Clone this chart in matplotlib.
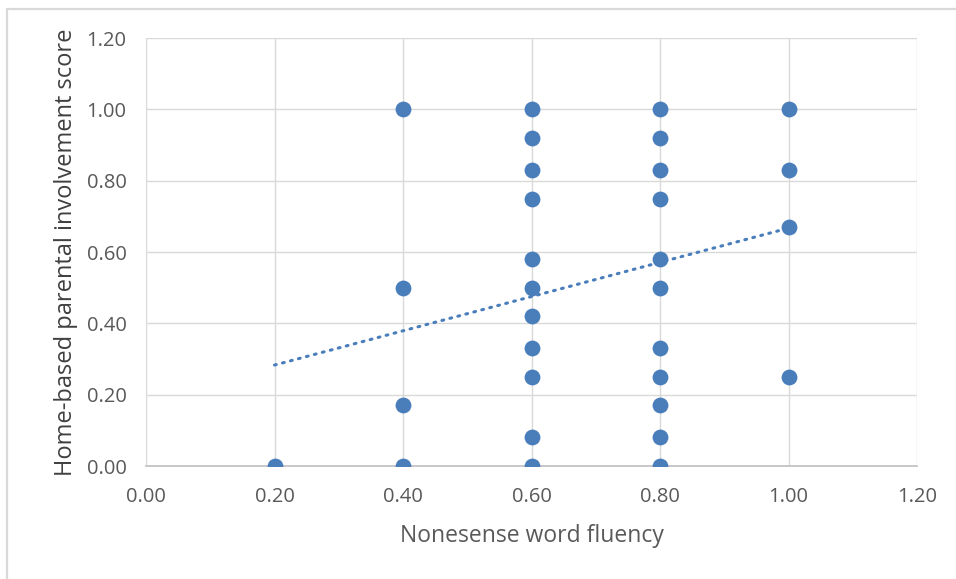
import numpy as np
import matplotlib
matplotlib.use("Agg")
import matplotlib.pyplot as plt
from matplotlib.patches import Rectangle

# Data
fluency = [0.2,
           0.4, 0.4, 0.4, 0.4,
           0.6, 0.6, 0.6, 0.6, 0.6, 0.6, 0.6, 0.6, 0.6, 0.6, 0.6,
           0.8, 0.8, 0.8, 0.8, 0.8, 0.8, 0.8, 0.8, 0.8, 0.8, 0.8,
           1.0, 1.0, 1.0, 1.0]
involvement = [0.00,
               1.00, 0.50, 0.17, 0.00,
               1.00, 0.92, 0.83, 0.75, 0.58, 0.50, 0.42, 0.33, 0.25, 0.08, 0.00,
               1.00, 0.92, 0.83, 0.75, 0.58, 0.50, 0.33, 0.25, 0.17, 0.08, 0.00,
               1.00, 0.83, 0.67, 0.25]
# Linear trendline as shown
trend_slope = 0.48
trend_intercept = 0.187
trend_x = [0.2, 1.0]

tick_vals = [0.0, 0.2, 0.4, 0.6, 0.8, 1.0, 1.2]
xlabel = "Nonesense word fluency"
ylabel = "Home-based parental involvement score"

blue = "#4A7EBB"
tick_color = "#595959"
fam = ["Open Sans", "DejaVu Sans"]

fig = plt.figure(figsize=(9.56, 5.79), dpi=100)
fig.patch.set_facecolor("white")
# outer chart border (left and top visible, right/bottom run off the image)
fig.patches.append(Rectangle((7/956, -0.05), 1.0, 1.05 - 9/579, transform=fig.transFigure,
                             fill=False, edgecolor="#d9d9d9", linewidth=1.6))

ax = fig.add_axes([146/956, 1 - 466/579, (917-146)/956, (466-38)/579])
ax.set_xlim(0, 1.2)
ax.set_ylim(0, 1.2)
ax.set_xticks(tick_vals)
ax.set_yticks(tick_vals)
ax.set_xticklabels([f"{v:.2f}" for v in tick_vals])
ax.set_yticklabels([f"{v:.2f}" for v in tick_vals])
ax.grid(True, color="#d9d9d9", linewidth=1)
ax.set_axisbelow(True)
for s in ["top", "right", "left"]:
    ax.spines[s].set_visible(False)
ax.spines["bottom"].set_color("#bfbfbf")
ax.spines["bottom"].set_linewidth(1.2)
ax.tick_params(length=0, colors=tick_color, labelsize=14.5)
ax.tick_params(axis="x", pad=15)
ax.tick_params(axis="y", pad=14)
for lab in ax.get_xticklabels() + ax.get_yticklabels():
    lab.set_family(fam)

tx = np.array(trend_x)
ax.plot(tx, trend_intercept + trend_slope * tx, color=blue, linewidth=2.2,
        linestyle=(0, (0.6, 2.1)), dash_capstyle="round", zorder=2)
ax.scatter(fluency, involvement, s=130, color=blue, zorder=3, linewidths=0)

ax.set_xlabel(xlabel, fontsize=16.5, color=tick_color, family=fam, labelpad=12)
ax.set_ylabel(ylabel, fontsize=17, color="#404040", family=fam, labelpad=6)

fig.savefig("out.png", dpi=100)
